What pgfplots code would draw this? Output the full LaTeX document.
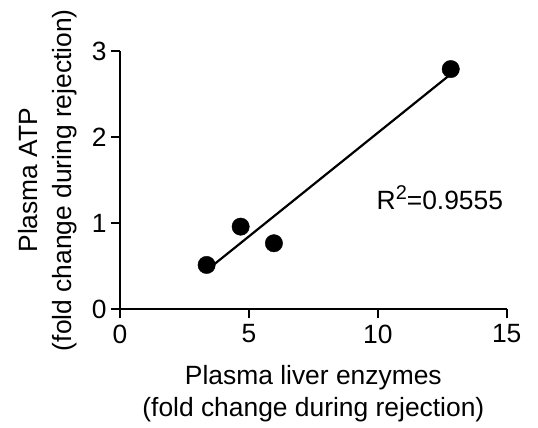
\documentclass[border=0pt]{standalone}
\usepackage{pgfplots}
\pgfplotsset{compat=1.18}
\usepackage{fontspec}
\setmainfont{Liberation Sans}

\begin{document}
\begin{tikzpicture}
% page size = reference size (538 x 428), axis box lower left at (0,0)
\path[use as bounding box] (-120bp,-118.7bp) rectangle (418bp,309.3bp);
\begin{axis}[
    at={(0,0)}, anchor=south west,
    scale only axis,
    width=386.7bp,
    height=258.3bp,
    xmin=0, xmax=15,
    ymin=0, ymax=3,
    xtick={0,5,10,15},
    ytick={0,1,2,3},
    axis x line=bottom,
    axis y line=left,
    axis line style={-, line width=2.2bp},
    every tick/.style={line width=2.2bp, black},
    tick align=outside,
    major tick length=9bp,
    clip=false,
    /pgf/number format/assume math mode=true,
    tick label style={font=\fontsize{26.5}{30}\selectfont},
    xticklabel style={yshift=-3bp},
    yticklabel style={xshift=-1bp},
    xlabel={Plasma liver enzymes\\(fold change during rejection)},
    ylabel={Plasma ATP\\(fold change during rejection)},
    xlabel style={align=center, font=\fontsize{26.5}{32}\selectfont,
        at={(axis description cs:0.5,-0.325)}, anchor=center},
    ylabel style={align=center, font=\fontsize{26.5}{34}\selectfont,
        at={(axis description cs:-0.186,0.5)}, anchor=center},
]

% linear fit over the data range
\addplot[no marks, line width=2.2bp, black] coordinates {
    (3.36,0.452) (12.83,2.731)
};

% data
\addplot[only marks, mark=*, mark size=8.7bp, black] coordinates {
    (3.36,0.515)
    (4.68,0.96)
    (5.97,0.767)
    (12.83,2.79)
};

\node[anchor=base west, font=\fontsize{26.5}{30}\selectfont, inner sep=0pt]
    at (axis cs:9.95,1.16) {R\raisebox{10bp}{\fontsize{20}{20}\selectfont 2}=0.9555};

\end{axis}
\end{tikzpicture}
\end{document}
